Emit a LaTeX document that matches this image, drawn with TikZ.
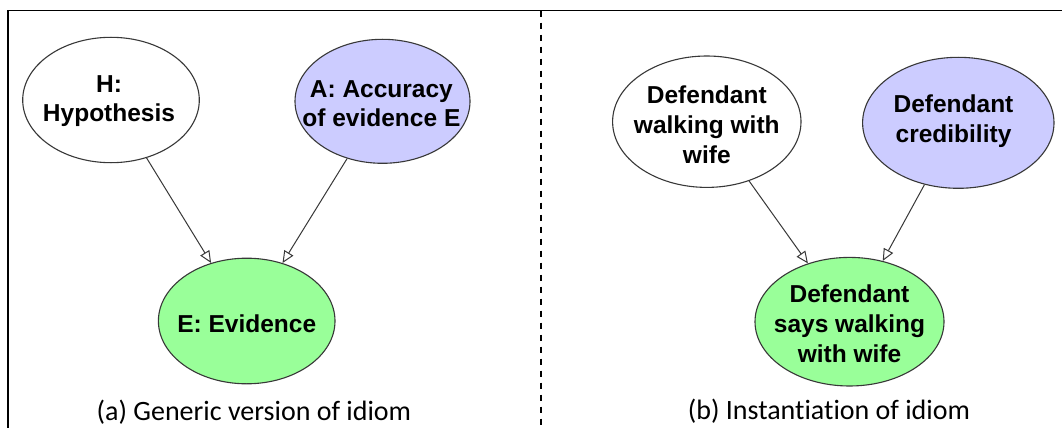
\documentclass[tikz,border=0pt]{standalone}
\usepackage{fontspec}
\usetikzlibrary{arrows.meta,shapes.geometric}
\newfontfamily\nodefont{Liberation Sans}[BoldFont={Liberation Sans Bold},Ligatures=NoCommon]
\newfontfamily\capfont{Carlito}[Ligatures=NoCommon]
\definecolor{purplefill}{RGB}{204,204,255}
\definecolor{greenfill}{RGB}{153,255,153}
\definecolor{edgegray}{RGB}{56,56,56}
\tikzset{
  ell/.style={ellipse, draw=edgegray, line width=1.1pt, inner sep=0pt},
  lbl/.style={align=center, inner sep=0pt, font=\nodefont\bfseries\fontsize{24.5}{28.5}\selectfont},
  lblr/.style={align=center, inner sep=0pt, font=\nodefont\bfseries\fontsize{24.5}{30}\selectfont},
  captext/.style={anchor=base, inner sep=0pt, font=\capfont\fontsize{28}{32}\selectfont},
  link/.style={draw=edgegray, line width=1pt, -{Triangle[length=12pt,width=10.5pt,fill=white,line width=1pt]}},
  framestyle/.style={line width=1.3pt, black},
  divider/.style={line width=1.5pt, black, dash pattern=on 6.5pt off 5.5pt}
}
\begin{document}
\begin{tikzpicture}[x=1pt,y=-1pt]
\useasboundingbox (0,0) rectangle (1062,428);
\fill[white] (0,0) rectangle (1062,428);
% frame
\coordinate (ftl) at (8,10.7);
\coordinate (ftr) at (1062,10.7);
\coordinate (fbl) at (8,428);
\coordinate (dtop) at (541,10.7);
\coordinate (dbot) at (541,428);
\draw[framestyle] (fbl) -- (ftl) -- (ftr);
\draw[divider] (dtop) -- (dbot);
% panel (a)
\node[ell, fill=white, minimum width=176.6pt, minimum height=125.4pt] (H) at (111,100) {};
\node[ell, fill=purplefill, minimum width=175pt, minimum height=124pt] (A) at (382.5,101.3) {};
\node[ell, fill=greenfill, minimum width=176.6pt, minimum height=125.6pt] (E) at (246.7,321) {};
\node[lbl] (Ht) at (109,101) {H:\\Hypothesis};
\node[lbl] (At) at (381.4,103.5) {A: Accuracy\\of evidence E};
\node[lbl] (Et) at (246.7,323.5) {E: Evidence};
\draw[link] (H) -- (E);
\draw[link] (A) -- (E);
\node[captext] (capa) at (253.9,420) {(a) Generic version of idiom};
% panel (b)
\node[ell, fill=white, minimum width=188.4pt, minimum height=131.4pt] (W) at (706.8,121.7) {};
\node[ell, fill=purplefill, minimum width=191.4pt, minimum height=131pt] (C) at (958.3,122.8) {};
\node[ell, fill=greenfill, minimum width=189pt, minimum height=128.6pt] (S) at (849.5,321.7) {};
\node[lblr] (Wt) at (706.8,125) {Defendant\\walking with\\wife};
\node[lblr] (Ct) at (953.5,121) {Defendant\\credibility};
\node[lblr] (St) at (849.5,323.5) {Defendant\\says walking\\with wife};
\draw[link] (W) -- (S);
\draw[link] (C) -- (S);
\node[captext] (capb) at (829,419.5) {(b) Instantiation of idiom};
\end{tikzpicture}
\end{document}
